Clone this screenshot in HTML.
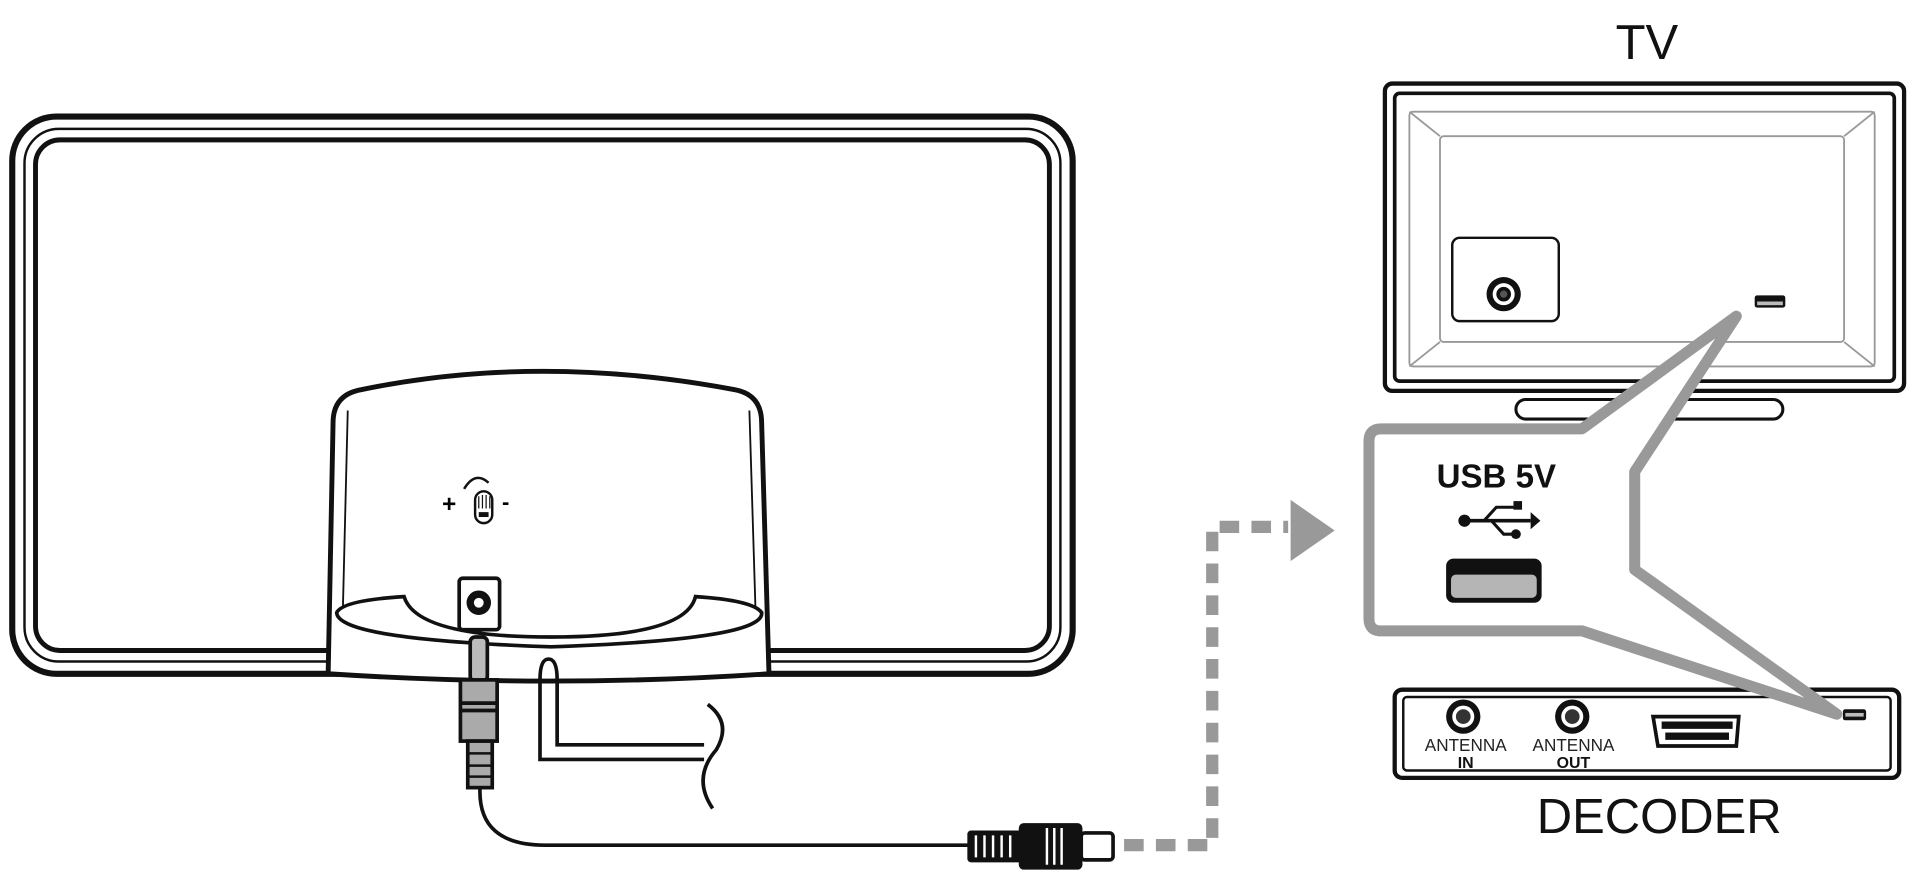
<!DOCTYPE html>
<html><head><meta charset="utf-8"><style>html,body{margin:0;padding:0;background:#fff;}svg{display:block}</style></head>
<body>
<svg width="1920" height="892" viewBox="0 0 1568 728" xmlns="http://www.w3.org/2000/svg" font-family="Liberation Sans, sans-serif">
<rect width="1568" height="728" fill="#fff"/>
<!-- antenna frame -->
<rect x="10" y="95" width="866" height="455" rx="36" fill="none" stroke="#111" stroke-width="5"/>
<rect x="20" y="105" width="846" height="435" rx="28" fill="none" stroke="#111" stroke-width="2"/>
<rect x="29" y="114" width="828" height="417" rx="20" fill="none" stroke="#111" stroke-width="4"/>
<!-- stand -->
<path d="M268 550 L272 345 Q272 322 295 318 Q440 288 600 318 Q622 322 622 345 L628 550 Q450 562 268 550 Z" fill="#fff" stroke="#111" stroke-width="4"/>
<path d="M284 335 L280 498 M612 335 L617 498" stroke="#111" stroke-width="1.5" fill="none"/>
<path d="M275 500 Q280 490 330 487 Q340 520 450 520 Q560 520 568 487 Q615 490 622 500 Q625 522 450 528 Q275 522 275 500 Z" fill="#fff" stroke="#111" stroke-width="3"/>
<!-- knob -->
<path d="M379 399 Q388 384 399 394" fill="none" stroke="#111" stroke-width="2"/>
<rect x="388" y="401" width="14" height="26" rx="7" fill="#fff" stroke="#111" stroke-width="2"/>
<path d="M391 405 v10 M394 404 v11 M397 404 v11 M400 405 v10" stroke="#111" stroke-width="1"/>
<rect x="391" y="418" width="8" height="4" fill="#111"/>
<text x="361" y="418" font-size="20" font-weight="bold">+</text>
<text x="410" y="416" font-size="18" font-weight="bold">-</text>
<!-- jack -->
<rect x="375" y="472" width="33" height="42" rx="3" fill="#fff" stroke="#111" stroke-width="3"/>
<circle cx="391" cy="492" r="10" fill="#111"/><circle cx="391" cy="492" r="4" fill="#fff"/>
<!-- plug -->
<rect x="384" y="520" width="14" height="36" rx="4" fill="#bbb" stroke="#111" stroke-width="3"/>
<rect x="376" y="555" width="30" height="50" fill="#aaa" stroke="#111" stroke-width="3"/>
<path d="M376 574 h30 M376 580 h30" stroke="#111" stroke-width="3"/>
<rect x="382" y="605" width="20" height="38" fill="#aaa" stroke="#111" stroke-width="3"/>
<path d="M382 615 h20 M382 625 h20 M382 634 h20" stroke="#111" stroke-width="2"/>
<path d="M392 643 Q390 690 445 690 L792 690" fill="none" stroke="#111" stroke-width="3"/>
<!-- F connector -->
<rect x="790" y="678" width="45" height="26" rx="3" fill="#111"/>
<rect x="832" y="672" width="52" height="38" rx="4" fill="#111"/>
<path d="M797 682 v18 M804 682 v18 M811 682 v18 M818 682 v18 M825 682 v18 M855 676 v30 M861 676 v30 M867 676 v30" stroke="#fff" stroke-width="2"/>
<rect x="883" y="680" width="26" height="22" rx="3" fill="#fff" stroke="#111" stroke-width="3"/>
<!-- hook wire -->
<path d="M441 555 L441 620 L575 620 M455 555 L455 608 L575 608" fill="none" stroke="#111" stroke-width="3"/>
<path d="M441 555 Q441 538 448 538 Q455 538 455 555" fill="none" stroke="#111" stroke-width="3"/>
<path d="M578 575 Q598 590 585 612 Q565 635 582 660" fill="none" stroke="#111" stroke-width="3"/>
<!-- dashed path -->
<path d="M918 690 L990 690 L990 430 L1052 430" fill="none" stroke="#999" stroke-width="10" stroke-dasharray="16 10"/>
<polygon points="1054,408 1090,433 1054,458" fill="#999"/>
<!-- TV -->
<text x="1345" y="48" font-size="40" text-anchor="middle" fill="#111">TV</text>
<rect x="1238" y="326" width="218" height="16" rx="8" fill="#fff" stroke="#111" stroke-width="2.5"/>
<rect x="1131" y="68" width="424" height="251" rx="6" fill="#fff" stroke="#111" stroke-width="3.5"/>
<rect x="1139" y="76" width="408" height="235" rx="4" fill="none" stroke="#111" stroke-width="3"/>
<rect x="1151" y="91" width="380" height="208" rx="3" fill="none" stroke="#999" stroke-width="1.5"/>
<rect x="1176" y="111" width="330" height="168" rx="3" fill="none" stroke="#999" stroke-width="1.5"/>
<path d="M1151 91 L1176 111 M1531 91 L1506 111 M1151 299 L1176 279 M1531 299 L1506 279" stroke="#999" stroke-width="1.5"/>
<rect x="1186" y="194" width="87" height="68" rx="6" fill="#fff" stroke="#111" stroke-width="2"/>
<circle cx="1228" cy="240" r="14" fill="#111"/><circle cx="1228" cy="240" r="9" fill="#fff"/><circle cx="1228" cy="240" r="6" fill="#111"/><circle cx="1228" cy="240" r="3" fill="#555"/>
<rect x="1433" y="241" width="25" height="10" rx="2" fill="#111"/><rect x="1435" y="246" width="21" height="3" fill="#bbb"/>
<!-- decoder -->
<rect x="1139" y="563" width="412" height="72" rx="6" fill="#fff" stroke="#111" stroke-width="3.5"/>
<rect x="1146" y="569" width="398" height="60" rx="3" fill="none" stroke="#111" stroke-width="2"/>
<!-- callout -->
<path d="M1418 258 L1292 350 L1128 350 Q1118 350 1118 360 L1118 505 Q1118 515 1128 515 L1292 515 L1500 583 L1335 465 L1335 385 Z" fill="#fff" stroke="#999" stroke-width="9" stroke-linejoin="round"/>
<text x="1222" y="398" font-size="27" font-weight="bold" text-anchor="middle" fill="#111">USB 5V</text>
<g fill="#111" stroke="#111">
<circle cx="1196" cy="425" r="5" stroke="none"/>
<path d="M1196 425 L1250 425" stroke-width="3"/>
<polygon points="1250,418 1258,425 1250,432" stroke="none"/>
<path d="M1212 425 L1222 414 L1236 414 M1218 425 L1228 436 L1236 436" fill="none" stroke-width="2.5"/>
<rect x="1236" y="409" width="7" height="7" stroke="none"/>
<circle cx="1238" cy="436" r="4" stroke="none"/>
</g>
<rect x="1181" y="456" width="78" height="36" rx="6" fill="#111"/>
<rect x="1185" y="469" width="70" height="19" rx="4" fill="#b5b5b5"/>
<circle cx="1195" cy="585" r="14" fill="#111"/><circle cx="1195" cy="585" r="9" fill="#fff"/><circle cx="1195" cy="585" r="6" fill="#333"/>
<circle cx="1284" cy="585" r="14" fill="#111"/><circle cx="1284" cy="585" r="9" fill="#fff"/><circle cx="1284" cy="585" r="6" fill="#333"/>
<text x="1197" y="613" font-size="14" text-anchor="middle" fill="#222">ANTENNA</text>
<text x="1197" y="627" font-size="13" font-weight="bold" text-anchor="middle" fill="#111">IN</text>
<text x="1285" y="613" font-size="14" text-anchor="middle" fill="#222">ANTENNA</text>
<text x="1285" y="627" font-size="13" font-weight="bold" text-anchor="middle" fill="#111">OUT</text>
<path d="M1350 585 L1420 585 L1418 609 L1354 609 Z" fill="#fff" stroke="#111" stroke-width="3"/>
<rect x="1357" y="589" width="58" height="6" fill="#111"/><rect x="1360" y="598" width="52" height="6" fill="#111"/>
<rect x="1505" y="579" width="19" height="9" rx="2" fill="#111"/><rect x="1507" y="582" width="15" height="3" fill="#bbb"/>
<text x="1355" y="680" font-size="40" text-anchor="middle" fill="#111">DECODER</text>
</svg>
</body></html>
